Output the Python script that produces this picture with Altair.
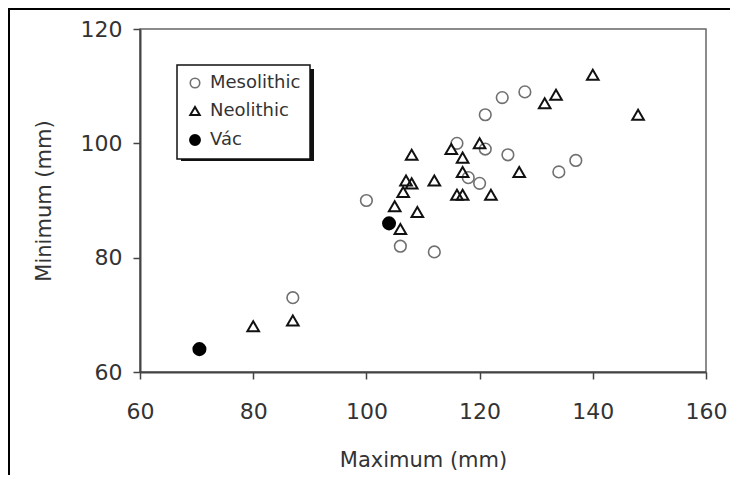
import altair as alt
import pandas as pd

# Data
meso_x = [87, 100, 106, 112, 116, 118, 120, 121, 121, 124, 125, 128, 134, 137]
meso_y = [73, 90, 82, 81, 100, 94, 93, 99, 105, 108, 98, 109, 95, 97]
neo_x = [80, 87, 105, 106, 106.5, 107, 108, 108, 109, 112, 115, 116, 117, 117, 117,
         120, 122, 127, 131.5, 133.5, 140, 148]
neo_y = [68, 69, 89, 85, 91.5, 93.5, 93, 98, 88, 93.5, 99, 91, 91, 97.5, 95,
         100, 91, 95, 107, 108.5, 112, 105]
vac_x = [70.5, 104]
vac_y = [64, 86]

groups = ["Mesolithic", "Neolithic", "Vác"]
x_ticks = [60, 80, 100, 120, 140, 160]
y_ticks = [60, 80, 100, 120]

rows = []
for g, xs, ys in [("Mesolithic", meso_x, meso_y), ("Neolithic", neo_x, neo_y), ("Vác", vac_x, vac_y)]:
    for a, b in zip(xs, ys):
        rows.append({"Maximum": a, "Minimum": b, "group": g})
df = pd.DataFrame(rows)

FONT = "DejaVu Sans"
W, H = 566, 343

frame = alt.Chart(alt.Data(values=[{}])).mark_rect(
    fillOpacity=0, stroke="black", strokeWidth=2
).encode(
    x=alt.value(-131), x2=alt.value(640), y=alt.value(-20), y2=alt.value(480)
)

shadow = alt.Chart(alt.Data(values=[{}])).mark_rect(color="#111").encode(
    x=alt.value(41), x2=alt.value(174), y=alt.value(40), y2=alt.value(132)
)

points = alt.Chart(df).mark_point(filled=True, size=135, opacity=1).encode(
    x=alt.X("Maximum:Q",
            scale=alt.Scale(domain=[60, 160], nice=False, zero=False),
            axis=alt.Axis(values=x_ticks, title="Maximum (mm)", grid=False, labelFlush=False,
                          tickSize=7, labelPadding=22, titlePadding=27, zindex=1)),
    y=alt.Y("Minimum:Q",
            scale=alt.Scale(domain=[60, 120], nice=False, zero=False),
            axis=alt.Axis(values=y_ticks, title="Minimum (mm)", grid=False, labelFlush=False,
                          tickSize=7, labelPadding=11, titlePadding=26, zindex=1)),
    shape=alt.Shape("group:N", scale=alt.Scale(domain=groups, range=["circle", "triangle-up", "circle"]),
                    legend=alt.Legend(title=None)),
    fill=alt.Fill("group:N", scale=alt.Scale(domain=groups, range=["transparent", "transparent", "#000000"]),
                  legend=alt.Legend(title=None)),
    stroke=alt.Stroke("group:N", scale=alt.Scale(domain=groups, range=["#707070", "#111111", "#000000"]),
                      legend=alt.Legend(title=None)),
    strokeWidth=alt.StrokeWidth("group:O", scale=alt.Scale(domain=groups, range=[1.6, 2.4, 1.0]),
                                legend=None),
)

chart = alt.layer(frame, shadow, points).properties(
    width=W, height=H,
    autosize=alt.AutoSizeParams(type="none"),
    padding={"left": 132, "top": 21, "right": 24, "bottom": 103},
    background="white",
).configure_view(
    stroke="#666666", strokeWidth=1.5, fill="white"
).configure_axis(
    domainColor="#444444", domainWidth=2, tickColor="#444444", tickWidth=1.5,
    labelFont=FONT, labelFontSize=22, labelColor="#333333",
    titleFont=FONT, titleFontSize=21, titleFontWeight="normal", titleColor="#333333",
).configure_legend(
    orient="none", legendX=37, legendY=36,
    fillColor="white", strokeColor="#111111", strokeWidth=1.5,
    padding=9, rowPadding=10, labelFont=FONT, labelFontSize=18, labelColor="#333333",
    symbolSize=90, symbolStrokeWidth=1.6, labelOffset=6, cornerRadius=0,
)

chart.save("out.html", embed_options={"renderer": "svg", "actions": False})
